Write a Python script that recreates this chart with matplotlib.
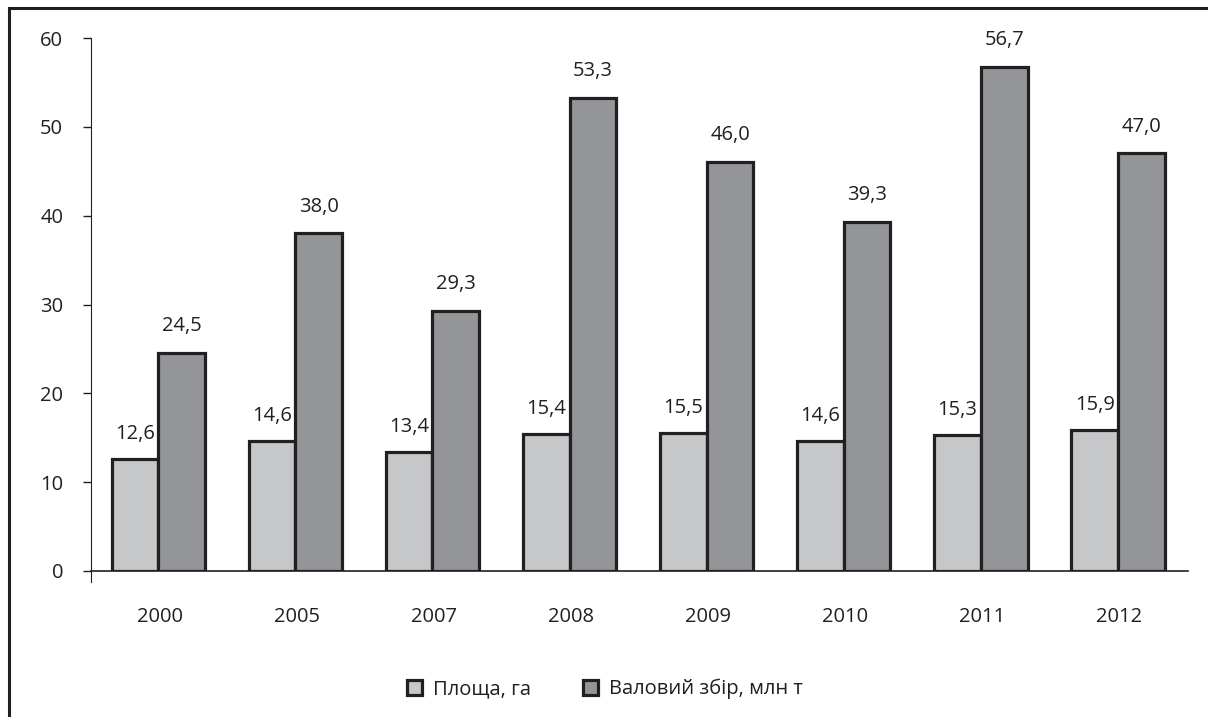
import numpy as np
import matplotlib.pyplot as plt
from matplotlib.patches import Rectangle

plt.rcParams['font.family'] = ['Open Sans', 'DejaVu Sans']

# data
years = ['2000', '2005', '2007', '2008', '2009', '2010', '2011', '2012']
area = [12.6, 14.6, 13.4, 15.4, 15.5, 14.6, 15.3, 15.9]
harvest = [24.5, 38.0, 29.3, 53.3, 46.0, 39.3, 56.7, 47.0]
area_name = 'Площа, га'
harvest_name = 'Валовий збір, млн т'

light = '#c6c7c9'
dark = '#939598'
txt = '#231f20'
fs = 14.5

W, H = 1208, 717
fig = plt.figure(figsize=(W / 100, H / 100), dpi=100)
ax = fig.add_axes([91 / W, 1 - 571 / H, (1188 - 91) / W, (571 - 38) / H])

x = np.arange(len(years))
bw = 0.34
b1 = ax.bar(x - bw / 2 - 0.01, area, bw, color=light, edgecolor=txt, linewidth=2.3, label=area_name)
b2 = ax.bar(x + bw / 2 - 0.01, harvest, bw, color=dark, edgecolor=txt, linewidth=2.3, label=harvest_name)

for xi, v in zip(x, area):
    ax.text(xi - bw / 2 - 0.01, v + 1.7, f'{v:.1f}'.replace('.', ','), ha='center', va='bottom',
            fontsize=fs, color=txt)
for xi, v in zip(x, harvest):
    ax.text(xi + bw / 2 - 0.01, v + 1.9, f'{v:.1f}'.replace('.', ','), ha='center', va='bottom',
            fontsize=fs, color=txt)

ax.set_xlim(-0.5, len(years) - 0.5)
ax.set_ylim(0, 60)
ax.set_yticks(range(0, 61, 10))
ax.set_xticks(x)
ax.set_xticklabels(years)
ax.tick_params(axis='y', direction='out', length=6, width=1, color=txt,
               labelsize=fs, labelcolor=txt, pad=14)
ax.tick_params(axis='x', length=0, labelsize=fs, labelcolor=txt, pad=26)
for s in ['top', 'right']:
    ax.spines[s].set_visible(False)
ax.spines['left'].set_bounds(-1.2, 60)
ax.spines['left'].set_color(txt)
ax.spines['bottom'].set_color(txt)
ax.spines['bottom'].set_linewidth(1.2)

leg = fig.legend(handles=[b1, b2], loc='center', bbox_to_anchor=(605 / W, 1 - 689 / H),
                 ncol=2, frameon=False, fontsize=fs, handlelength=0.75, handleheight=0.75,
                 handletextpad=0.55, columnspacing=2.55, labelcolor=txt)

# figure border (only left and top visible)
fig.patches.append(Rectangle((9 / W, -0.1), 1.2, 1.1 - 8 / H, transform=fig.transFigure,
                             fill=False, edgecolor=txt, linewidth=2.2, clip_on=False))

fig.savefig('out.png', dpi=100)
